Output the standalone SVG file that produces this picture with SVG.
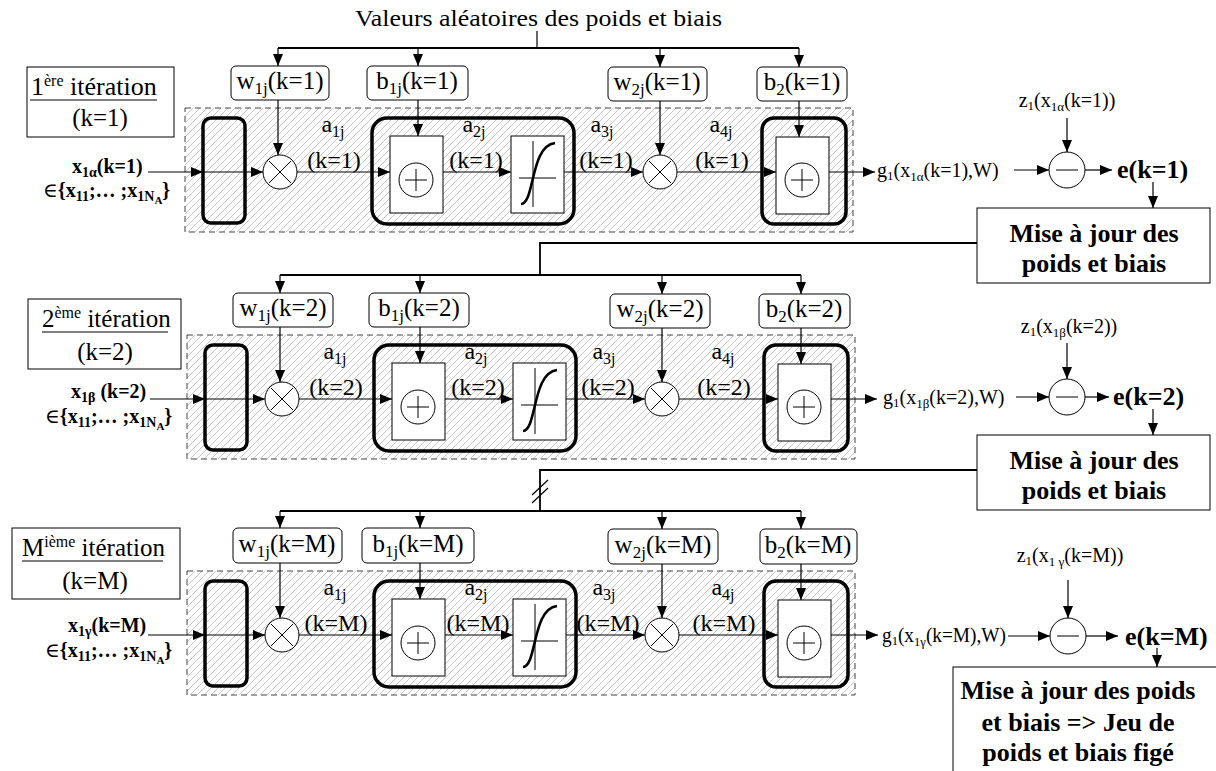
<svg xmlns="http://www.w3.org/2000/svg" width="1216" height="771" viewBox="0 0 1216 771">
<defs>
<pattern id="hatch" patternUnits="userSpaceOnUse" width="7" height="7">
<path d="M-1,1 l2,-2 M0,7 l7,-7 M6,8 l2,-2" stroke="#c4c4c4" stroke-width="1"/>
</pattern>
<marker id="ah" viewBox="0 0 12 10" refX="12" refY="5" markerWidth="12" markerHeight="10" markerUnits="userSpaceOnUse" orient="auto">
<path d="M0,0 L12,5 L0,10 z" fill="#000"/>
</marker>
<style>
.t{font-family:"Liberation Serif","Times New Roman","DejaVu Serif",serif;fill:#000}
.b{font-weight:bold}
.box{fill:#fff;stroke:#000;stroke-width:1}
.thick{fill:none;stroke:#000;stroke-width:3.5}
.cont{fill:url(#hatch);stroke:#444;stroke-width:1;stroke-dasharray:6 4}
.c{fill:none;stroke:#000;stroke-width:1.2}
.ar{marker-end:url(#ah)}
.bus{fill:none;stroke:#000;stroke-width:1.8}
.op{fill:#fff;stroke:#000;stroke-width:1}
.ln{fill:none;stroke:#000;stroke-width:1}
.sig{fill:none;stroke:#000;stroke-width:2.6}
.bl{font-size:25px}
.al{font-size:24px}
</style>
</defs>
<rect width="1216" height="771" fill="#fff"/>

<!-- title -->
<g id="title"><text class="t" x="355" y="26" font-size="24" textLength="367" lengthAdjust="spacingAndGlyphs">Valeurs aléatoires des poids et biais</text></g>

<!-- ========== ROW 1 ========== -->
<g id="row1">
<g id="r1-container"><rect class="cont" x="185" y="108" width="668" height="124"/></g>
<g id="r1-input"><rect class="thick" x="203" y="118" width="42" height="105" rx="8"/></g>
<g id="r1-mul1"><circle class="op" cx="280" cy="172" r="17"/><path class="ln" d="M269,161l22,22M291,161l-22,22"/></g>
<g id="r1-hidden"><rect class="thick" x="372" y="118" width="202" height="106" rx="15"/>
<rect class="box" x="390" y="136" width="53" height="77"/><circle class="op" cx="416" cy="180" r="17"/><path class="ln" d="M405,180h22M416,169v22"/>
<rect class="box" x="511" y="136" width="53" height="77"/><path class="ln" d="M533,141V207M519,178H556"/><path class="sig" d="M521,204 C535,203 530,146 555,143"/></g>
<g id="r1-mul2"><circle class="op" cx="660" cy="172" r="17"/><path class="ln" d="M649,161l22,22M671,161l-22,22"/></g>
<g id="r1-output"><rect class="thick" x="762" y="118" width="84" height="106" rx="12"/>
<rect class="box" x="776" y="137" width="53" height="77"/><circle class="op" cx="802" cy="180" r="17"/><path class="ln" d="M791,180h22M802,169v22"/></g>
<g id="r1-w1j"><rect class="box" x="231" y="66" width="98" height="34" rx="5"/><text class="t bl" x="280" y="89" text-anchor="middle">w<tspan font-size="17" dy="5">1j</tspan><tspan dy="-5">(k=1)</tspan></text></g>
<g id="r1-b1j"><rect class="box" x="367" y="66" width="101" height="34" rx="5"/><text class="t bl" x="417" y="89" text-anchor="middle">b<tspan font-size="17" dy="5">1j</tspan><tspan dy="-5">(k=1)</tspan></text></g>
<g id="r1-w2j"><rect class="box" x="608" y="67" width="99" height="34" rx="5"/><text class="t bl" x="657" y="90" text-anchor="middle">w<tspan font-size="17" dy="5">2j</tspan><tspan dy="-5">(k=1)</tspan></text></g>
<g id="r1-b2"><rect class="box" x="757" y="67" width="90" height="34" rx="5"/><text class="t bl" x="802" y="90" text-anchor="middle">b<tspan font-size="17" dy="5">2</tspan><tspan dy="-5">(k=1)</tspan></text></g>
<g id="r1-labels" class="t al" text-anchor="middle">
<text x="333" y="132">a<tspan font-size="16" dy="5">1j</tspan></text><text x="334" y="168">(k=1)</text>
<text x="474" y="132">a<tspan font-size="16" dy="5">2j</tspan></text><text x="476" y="168">(k=1)</text>
<text x="602" y="132">a<tspan font-size="16" dy="5">3j</tspan></text><text x="606" y="168">(k=1)</text>
<text x="721" y="132">a<tspan font-size="16" dy="5">4j</tspan></text><text x="722" y="168">(k=1)</text>
</g>
</g>

<g id="r1-iter"><rect class="box" x="27" y="67" width="147" height="70"/>
<text class="t" x="31" y="95" font-size="26">1<tspan font-size="16" dy="-9">ère</tspan><tspan dy="9"> itération</tspan></text>
<path d="M30,100H157" stroke="#000" stroke-width="1.2"/>
<text class="t" x="100" y="126" font-size="25" text-anchor="middle">(k=1)</text></g>
<g id="r1-x"><text class="t b" x="72" y="173" font-size="20">x<tspan font-size="14" dy="4">1α</tspan><tspan dy="-4">(k=1)</tspan></text>
<text class="t b" x="43" y="197" font-size="20"><tspan font-weight="normal">∈</tspan>{x<tspan font-size="14" dy="4">11</tspan><tspan dy="-4">;… ;x</tspan><tspan font-size="14" dy="4">1N</tspan><tspan font-size="11" dy="3">A</tspan><tspan dy="-7">}</tspan></text></g>
<g id="r1-g1"><text class="t" x="877" y="177" font-size="20">g<tspan font-size="13" dy="3">1</tspan><tspan dy="-3">(x</tspan><tspan font-size="13" dy="4">1α</tspan><tspan dy="-4">(k=1),W)</tspan></text></g>
<g id="r1-z1"><text class="t" x="1067" y="107" font-size="20" text-anchor="middle">z<tspan font-size="13" dy="3">1</tspan><tspan dy="-3">(x</tspan><tspan font-size="13" dy="4">1α</tspan><tspan dy="-4">(k=1))</tspan></text></g>
<g id="r1-minus"><circle class="op" cx="1067" cy="170" r="18"/><path class="ln" d="M1056,170h22"/></g>
<g id="r1-e"><text class="t b" x="1117" y="178" font-size="26">e(k=1)</text></g>
<g id="r1-update"><rect class="box" x="977" y="208" width="233" height="75"/>
<text class="t b" x="1094" y="242" font-size="26" text-anchor="middle">Mise à jour des</text>
<text class="t b" x="1094" y="272" font-size="26" text-anchor="middle">poids et biais</text></g>

<!-- ========== ROW 2 ========== -->
<g id="row2" transform="translate(2,227)">
<g id="r2-container"><rect class="cont" x="185" y="108" width="668" height="124"/></g>
<g id="r2-input"><rect class="thick" x="203" y="118" width="42" height="105" rx="8"/></g>
<g id="r2-mul1"><circle class="op" cx="280" cy="172" r="17"/><path class="ln" d="M269,161l22,22M291,161l-22,22"/></g>
<g id="r2-hidden"><rect class="thick" x="372" y="118" width="202" height="106" rx="15"/>
<rect class="box" x="390" y="136" width="53" height="77"/><circle class="op" cx="416" cy="180" r="17"/><path class="ln" d="M405,180h22M416,169v22"/>
<rect class="box" x="511" y="136" width="53" height="77"/><path class="ln" d="M533,141V207M519,178H556"/><path class="sig" d="M521,204 C535,203 530,146 555,143"/></g>
<g id="r2-mul2"><circle class="op" cx="660" cy="172" r="17"/><path class="ln" d="M649,161l22,22M671,161l-22,22"/></g>
<g id="r2-output"><rect class="thick" x="762" y="118" width="84" height="106" rx="12"/>
<rect class="box" x="776" y="137" width="53" height="77"/><circle class="op" cx="802" cy="180" r="17"/><path class="ln" d="M791,180h22M802,169v22"/></g>
<g id="r2-w1j"><rect class="box" x="231" y="66" width="100" height="34" rx="5"/><text class="t bl" x="281" y="89" text-anchor="middle">w<tspan font-size="17" dy="5">1j</tspan><tspan dy="-5">(k=2)</tspan></text></g>
<g id="r2-b1j"><rect class="box" x="367" y="66" width="100" height="34" rx="5"/><text class="t bl" x="417" y="89" text-anchor="middle">b<tspan font-size="17" dy="5">1j</tspan><tspan dy="-5">(k=2)</tspan></text></g>
<g id="r2-w2j"><rect class="box" x="608" y="67" width="100" height="34" rx="5"/><text class="t bl" x="658" y="90" text-anchor="middle">w<tspan font-size="17" dy="5">2j</tspan><tspan dy="-5">(k=2)</tspan></text></g>
<g id="r2-b2"><rect class="box" x="757" y="67" width="91" height="34" rx="5"/><text class="t bl" x="802" y="90" text-anchor="middle">b<tspan font-size="17" dy="5">2</tspan><tspan dy="-5">(k=2)</tspan></text></g>
<g id="r2-labels" class="t al" text-anchor="middle">
<text x="333" y="132">a<tspan font-size="16" dy="5">1j</tspan></text><text x="334" y="168">(k=2)</text>
<text x="474" y="132">a<tspan font-size="16" dy="5">2j</tspan></text><text x="476" y="168">(k=2)</text>
<text x="602" y="132">a<tspan font-size="16" dy="5">3j</tspan></text><text x="606" y="168">(k=2)</text>
<text x="721" y="132">a<tspan font-size="16" dy="5">4j</tspan></text><text x="722" y="168">(k=2)</text>
</g>
</g>

<g id="r2-iter"><rect class="box" x="28" y="299" width="153" height="70"/>
<text class="t" x="42" y="327" font-size="25">2<tspan font-size="16" dy="-9">ème</tspan><tspan dy="9"> itération</tspan></text>
<path d="M42,332H168" stroke="#000" stroke-width="1.2"/>
<text class="t" x="105" y="360" font-size="25" text-anchor="middle">(k=2)</text></g>
<g id="r2-x"><text class="t b" x="71" y="398" font-size="20">x<tspan font-size="14" dy="4">1β</tspan><tspan dy="-4"> (k=2)</tspan></text>
<text class="t b" x="45" y="423" font-size="20"><tspan font-weight="normal">∈</tspan>{x<tspan font-size="14" dy="4">11</tspan><tspan dy="-4">;… ;x</tspan><tspan font-size="14" dy="4">1N</tspan><tspan font-size="11" dy="3">A</tspan><tspan dy="-7">}</tspan></text></g>
<g id="r2-g1"><text class="t" x="883" y="404" font-size="20">g<tspan font-size="13" dy="3">1</tspan><tspan dy="-3">(x</tspan><tspan font-size="13" dy="4">1β</tspan><tspan dy="-4">(k=2),W)</tspan></text></g>
<g id="r2-z1"><text class="t" x="1069" y="333" font-size="20" text-anchor="middle">z<tspan font-size="13" dy="3">1</tspan><tspan dy="-3">(x</tspan><tspan font-size="13" dy="4">1β</tspan><tspan dy="-4">(k=2))</tspan></text></g>
<g id="r2-minus"><circle class="op" cx="1067" cy="397" r="18"/><path class="ln" d="M1056,397h22"/></g>
<g id="r2-e"><text class="t b" x="1113" y="405" font-size="26">e(k=2)</text></g>
<g id="r2-update"><rect class="box" x="977" y="435" width="233" height="75"/>
<text class="t b" x="1094" y="469" font-size="26" text-anchor="middle">Mise à jour des</text>
<text class="t b" x="1094" y="499" font-size="26" text-anchor="middle">poids et biais</text></g>

<!-- ========== ROW 3 ========== -->
<g id="row3" transform="translate(2,463)">
<g id="r3-container"><rect class="cont" x="185" y="108" width="668" height="124"/></g>
<g id="r3-input"><rect class="thick" x="203" y="118" width="42" height="105" rx="8"/></g>
<g id="r3-mul1"><circle class="op" cx="280" cy="172" r="17"/><path class="ln" d="M269,161l22,22M291,161l-22,22"/></g>
<g id="r3-hidden"><rect class="thick" x="372" y="118" width="202" height="106" rx="15"/>
<rect class="box" x="390" y="136" width="53" height="77"/><circle class="op" cx="416" cy="180" r="17"/><path class="ln" d="M405,180h22M416,169v22"/>
<rect class="box" x="511" y="136" width="53" height="77"/><path class="ln" d="M533,141V207M519,178H556"/><path class="sig" d="M521,204 C535,203 530,146 555,143"/></g>
<g id="r3-mul2"><circle class="op" cx="660" cy="172" r="17"/><path class="ln" d="M649,161l22,22M671,161l-22,22"/></g>
<g id="r3-output"><rect class="thick" x="762" y="118" width="84" height="106" rx="12"/>
<rect class="box" x="776" y="137" width="53" height="77"/><circle class="op" cx="802" cy="180" r="17"/><path class="ln" d="M791,180h22M802,169v22"/></g>
<g id="r3-w1j"><rect class="box" x="231" y="65" width="109" height="35" rx="5"/><text class="t bl" x="285" y="89" text-anchor="middle">w<tspan font-size="17" dy="5">1j</tspan><tspan dy="-5">(k=M)</tspan></text></g>
<g id="r3-b1j"><rect class="box" x="360" y="65" width="112" height="35" rx="5"/><text class="t bl" x="416" y="89" text-anchor="middle">b<tspan font-size="17" dy="5">1j</tspan><tspan dy="-5">(k=M)</tspan></text></g>
<g id="r3-w2j"><rect class="box" x="606" y="66" width="110" height="35" rx="5"/><text class="t bl" x="661" y="90" text-anchor="middle">w<tspan font-size="17" dy="5">2j</tspan><tspan dy="-5">(k=M)</tspan></text></g>
<g id="r3-b2"><rect class="box" x="758" y="66" width="97" height="35" rx="5"/><text class="t bl" x="806" y="90" text-anchor="middle">b<tspan font-size="17" dy="5">2</tspan><tspan dy="-5">(k=M)</tspan></text></g>
<g id="r3-labels" class="t al" text-anchor="middle">
<text x="333" y="132">a<tspan font-size="16" dy="5">1j</tspan></text><text x="334" y="168">(k=M)</text>
<text x="474" y="132">a<tspan font-size="16" dy="5">2j</tspan></text><text x="476" y="168">(k=M)</text>
<text x="602" y="132">a<tspan font-size="16" dy="5">3j</tspan></text><text x="606" y="168">(k=M)</text>
<text x="721" y="132">a<tspan font-size="16" dy="5">4j</tspan></text><text x="722" y="168">(k=M)</text>
</g>
</g>

<g id="r3-iter"><rect class="box" x="12" y="528" width="168" height="71"/>
<text class="t" x="22" y="556" font-size="25">M<tspan font-size="16" dy="-9">ième</tspan><tspan dy="9"> itération</tspan></text>
<path d="M22,561H163" stroke="#000" stroke-width="1.2"/>
<text class="t" x="95" y="589" font-size="25" text-anchor="middle">(k=M)</text></g>
<g id="r3-x"><text class="t b" x="68" y="632" font-size="20">x<tspan font-size="14" dy="4">1γ</tspan><tspan dy="-4">(k=M)</tspan></text>
<text class="t b" x="45" y="657" font-size="20"><tspan font-weight="normal">∈</tspan>{x<tspan font-size="14" dy="4">11</tspan><tspan dy="-4">;… ;x</tspan><tspan font-size="14" dy="4">1N</tspan><tspan font-size="11" dy="3">A</tspan><tspan dy="-7">}</tspan></text></g>
<g id="r3-g1"><text class="t" x="882" y="642" font-size="20" textLength="124" lengthAdjust="spacingAndGlyphs">g<tspan font-size="13" dy="3">1</tspan><tspan dy="-3">(x</tspan><tspan font-size="13" dy="4">1γ</tspan><tspan dy="-4">(k=M),W)</tspan></text></g>
<g id="r3-z1"><text class="t" x="1070" y="562" font-size="20" text-anchor="middle">z<tspan font-size="13" dy="3">1</tspan><tspan dy="-3">(x</tspan><tspan font-size="13" dy="4">1 γ</tspan><tspan dy="-4">(k=M))</tspan></text></g>
<g id="r3-minus"><circle class="op" cx="1068" cy="636" r="18"/><path class="ln" d="M1057,636h22"/></g>
<g id="r3-e"><text class="t b" x="1125" y="645" font-size="26">e(k=M)</text></g>
<g id="r3-update"><rect class="box" x="953" y="667" width="280" height="120"/>
<text class="t b" x="1078" y="699" font-size="26" text-anchor="middle">Mise à jour des poids</text>
<text class="t b" x="1078" y="731" font-size="26" text-anchor="middle">et biais =&gt; Jeu de</text>
<text class="t b" x="1078" y="761" font-size="26" text-anchor="middle">poids et biais figé</text></g>

<!-- ========== CONNECTORS ========== -->
<g id="connectors">
<path class="c" d="M537,31V48"/>
<path class="bus" d="M977,243H540V275"/>
<path class="bus" d="M977,470H540V511"/>
<path class="c" d="M532,495L548,480M532,503L548,488"/>
<g transform="translate(0,0)">
<path class="bus" d="M278,48H799"/>
<path class="c ar" d="M278,48V66"/><path class="c ar" d="M418,48V66"/><path class="c ar" d="M660,48V67"/><path class="c ar" d="M799,48V67"/>
<path class="c ar" d="M148,172H203"/><path class="c ar" d="M203,172H263"/><path class="c ar" d="M297,172H390"/><path class="c ar" d="M443,172H511"/><path class="c ar" d="M564,172H643"/><path class="c ar" d="M677,172H776"/><path class="c ar" d="M829,172H875"/>
<path class="c ar" d="M278,100V155"/><path class="c ar" d="M418,100V136"/><path class="c ar" d="M660,101V155"/><path class="c ar" d="M799,101V137"/>
</g>
<g transform="translate(2,227)">
<path class="bus" d="M278,48H799"/>
<path class="c ar" d="M278,48V66"/><path class="c ar" d="M418,48V66"/><path class="c ar" d="M660,48V67"/><path class="c ar" d="M799,48V67"/>
<path class="c ar" d="M148,172H203"/><path class="c ar" d="M203,172H263"/><path class="c ar" d="M297,172H390"/><path class="c ar" d="M443,172H511"/><path class="c ar" d="M564,172H643"/><path class="c ar" d="M677,172H776"/><path class="c ar" d="M829,172H875"/>
<path class="c ar" d="M278,100V155"/><path class="c ar" d="M418,100V136"/><path class="c ar" d="M660,101V155"/><path class="c ar" d="M799,101V137"/>
</g>
<g transform="translate(2,463)">
<path class="bus" d="M278,48H799"/>
<path class="c ar" d="M278,48V65"/><path class="c ar" d="M418,48V65"/><path class="c ar" d="M660,48V66"/><path class="c ar" d="M799,48V66"/>
<path class="c ar" d="M146,172H203"/><path class="c ar" d="M203,172H263"/><path class="c ar" d="M297,172H390"/><path class="c ar" d="M443,172H511"/><path class="c ar" d="M564,172H643"/><path class="c ar" d="M677,172H776"/><path class="c ar" d="M829,172H876"/>
<path class="c ar" d="M278,100V155"/><path class="c ar" d="M418,100V136"/><path class="c ar" d="M660,101V155"/><path class="c ar" d="M799,101V137"/>
</g>
<path class="c ar" d="M1014,170H1049"/><path class="c ar" d="M1067,118V152"/><path class="c ar" d="M1085,170H1112"/><path class="c ar" d="M1153,182V208"/>
<path class="c ar" d="M1016,397H1049"/><path class="c ar" d="M1067,343V379"/><path class="c ar" d="M1085,397H1109"/><path class="c ar" d="M1153,409V435"/>
<path class="c ar" d="M1008,636H1050"/><path class="c ar" d="M1068,580V618"/><path class="c ar" d="M1086,636H1118"/><path class="c ar" d="M1157,648V667"/>
</g>
</svg>
